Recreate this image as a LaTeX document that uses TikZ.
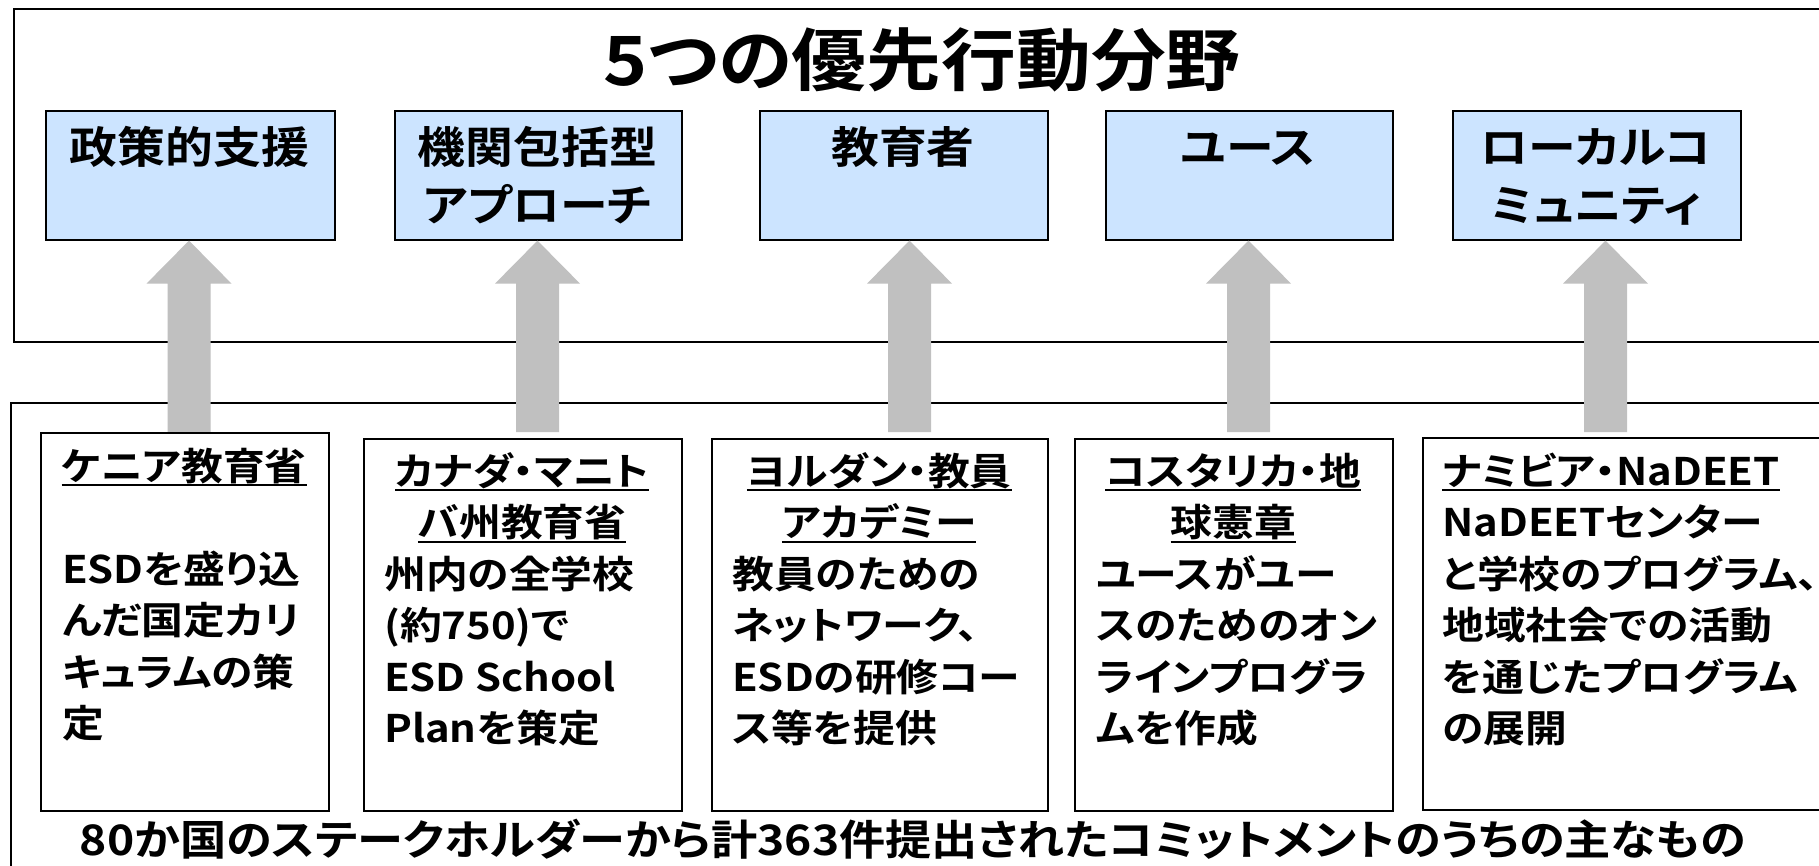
\documentclass[tikz,border=0pt]{standalone}
\usepackage{fontspec}
\usetikzlibrary{calc}
\newfontfamily\jpf{Noto Sans CJK JP}[UprightFont=* Bold, FakeStretch=1.1, RawFeature=+palt]
\definecolor{pblue}{RGB}{204,228,255}
\definecolor{agray}{RGB}{192,192,192}
\newcommand\myul[1]{\leavevmode\setbox0=\hbox{#1}\rlap{\rule[-6pt]{\wd0}{2pt}}\box0}
\newcommand\cl[1]{\makebox[\linewidth][c]{#1}}
\newcommand\wfont{\jpf\fontsize{38}{51.5}\selectfont}
\newcommand\bfontx{\jpf\fontsize{43.5}{58}\selectfont}
\newcommand\btext[1]{\parbox[t]{280pt}{\bfontx\centering #1}}
\newcommand\blockarrow[2]{%
  \fill[agray] ($(#1)+(-21.5,0)$) -- ($(#2)+(-21.5,43)$) -- ($(#2)+(-42.5,43)$) -- (#2)
    -- ($(#2)+(42.5,43)$) -- ($(#2)+(21.5,43)$) -- ($(#1)+(21.5,0)$) -- cycle;}
\tikzset{
  frame/.style={draw=black, line width=1.6pt, anchor=north west, inner sep=0pt},
  pbox/.style={draw=black, line width=1.6pt, fill=pblue, anchor=north west, inner sep=0pt, minimum height=129pt},
  cbox/.style={draw=black, line width=1.6pt, fill=white, anchor=north west, inner sep=0pt},
  wtxt/.style={inner sep=0pt, anchor=base west, font=\wfont},
  btxt/.style={inner sep=0pt, anchor=base, font=\bfontx},
}
\begin{document}
\begin{tikzpicture}[x=1pt,y=-1pt]
\useasboundingbox (0,0) rectangle (1819,865);
\clip (0,0) rectangle (1819,865);
\fill[white] (0,0) rectangle (1819,865);
% frames
\node[frame, minimum width=1840pt, minimum height=333pt] (topf) at (13,8) {};
\node[frame, minimum width=1840pt, minimum height=520pt] (botf) at (10,402) {};
% title
\node[inner sep=0pt, anchor=base, font={\jpf\fontsize{68}{80}\selectfont}] (title) at (922,85) {5つの優先行動分野};
% arrows
\coordinate (b1) at (189,432);
\coordinate (b2) at (537.5,432);
\coordinate (b3) at (909.5,432);
\coordinate (b4) at (1248.5,432);
\coordinate (b5) at (1605.5,432);
% priority boxes
\node[pbox, minimum width=289pt] (pb1) at (45,110) {};
\node[pbox, minimum width=287pt] (pb2) at (394,110) {};
\node[pbox, minimum width=288pt] (pb3) at (759,110) {};
\node[pbox, minimum width=287pt] (pb4) at (1105,110) {};
\node[pbox, minimum width=288pt] (pb5) at (1452,110) {};
\foreach \i in {1,...,5} {
  \coordinate (t\i) at (pb\i.south -| b\i);
  \blockarrow{b\i}{t\i}
}
\node[btxt] (pt1) at (189.5,163) {\btext{政策的支援}};
\node[btxt] (pt2) at (537.5,163) {\btext{機関包括型\\アプローチ}};
\node[btxt] (pt3) at (903,163) {\btext{教育者}};
\node[btxt] (pt4) at (1248.5,163) {\btext{ユース}};
\node[btxt] (pt5) at (1596,163) {\btext{ローカルコ\\ミュニティ}};
% commitment boxes
\node[cbox, minimum width=288pt, minimum height=378pt] (cA) at (40,432) {};
\node[cbox, minimum width=318pt, minimum height=372pt] (cB) at (363,438) {};
\node[cbox, minimum width=336pt, minimum height=372pt] (cC) at (711,438) {};
\node[cbox, minimum width=318pt, minimum height=372pt] (cD) at (1074,438) {};
\node[cbox, minimum width=420pt, minimum height=372pt] (cE) at (1422,437) {};
\node[wtxt] (tA) at (62,480) {\parbox[t]{244pt}{\wfont\raggedright
  \cl{\myul{ケニア教育省}}\\ \mbox{}\\ ESDを盛り込\\ んだ国定カリ\\ キュラムの策\\ 定}};
\node[wtxt] (tB) at (384,485) {\parbox[t]{276pt}{\wfont\raggedright
  \cl{\myul{カナダ・マニト}}\\ \cl{\myul{バ州教育省}}\\ 州内の全学校\\ (約750)で\\ ESD School\\ Planを策定}};
\node[wtxt] (tC) at (732,485) {\parbox[t]{294pt}{\wfont\raggedright
  \cl{\myul{ヨルダン・教員}}\\ \cl{\myul{アカデミー}}\\ 教員のための\\ ネットワーク、\\ ESDの研修コー\\ ス等を提供}};
\node[wtxt] (tD) at (1096,485) {\parbox[t]{274pt}{\wfont\raggedright
  \cl{\myul{コスタリカ・地}}\\ \cl{\myul{球憲章}}\\ ユースがユー\\ スのためのオン\\ ラインプログラ\\ ムを作成}};
\node[wtxt] (tE) at (1442,485) {\parbox[t]{340pt}{\wfont\raggedright
  \myul{ナミビア・NaDEET}\\ NaDEETセンター\\ と学校のプログラム、\\ 地域社会での活動\\ を通じたプログラム\\ の展開}};
% caption
\node[inner sep=0pt, anchor=base, font={\jpf\fontsize{42}{48}\selectfont}] (cap) at (913,855) {80か国のステークホルダーから計363件提出されたコミットメントのうちの主なもの};
\end{tikzpicture}
\end{document}
